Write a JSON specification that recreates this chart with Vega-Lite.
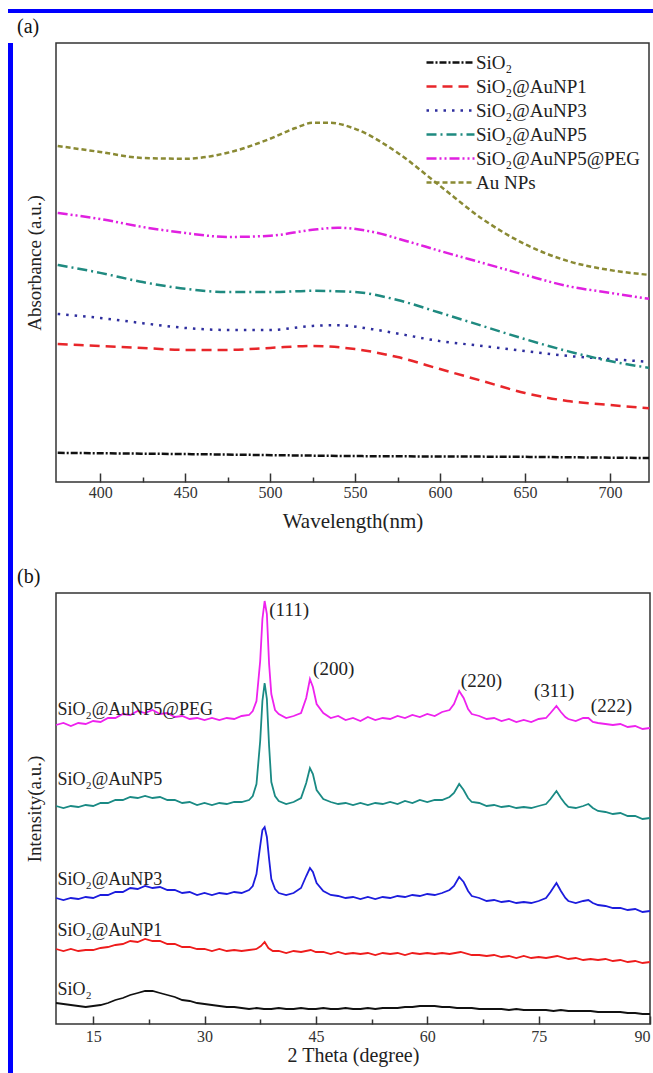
{
"$schema": "https://vega.github.io/schema/vega-lite/v6.json",
"padding": {"left": 8, "top": 9, "right": 0, "bottom": 0},
"background": "white",
"spacing": 3,
"config": {
  "font": "Liberation Serif",
  "view": {"stroke": "#333", "strokeWidth": 1.5},
  "axis": {"labelFont": "Liberation Serif", "titleFont": "Liberation Serif", "titleFontWeight": "normal", "labelColor": "#333", "titleColor": "#222", "grid": false, "domain": false},
  "title": {"font": "Liberation Serif", "fontWeight": "normal", "fontSize": 20, "anchor": "start", "color": "#111", "frame": "bounds"}
},
"datasets": {
"uv": [
{"s":"SiO₂","w":375,"a":0.073},{"s":"SiO₂","w":450,"a":0.070},{"s":"SiO₂","w":550,"a":0.065},{"s":"SiO₂","w":650,"a":0.063},{"s":"SiO₂","w":723,"a":0.060},
{"s":"SiO₂@AuNP1","w":375,"a":0.346},{"s":"SiO₂@AuNP1","w":400,"a":0.341},{"s":"SiO₂@AuNP1","w":425,"a":0.336},{"s":"SiO₂@AuNP1","w":450,"a":0.331},{"s":"SiO₂@AuNP1","w":475,"a":0.331},{"s":"SiO₂@AuNP1","w":500,"a":0.336},{"s":"SiO₂@AuNP1","w":525,"a":0.341},{"s":"SiO₂@AuNP1","w":550,"a":0.333},{"s":"SiO₂@AuNP1","w":575,"a":0.313},{"s":"SiO₂@AuNP1","w":600,"a":0.283},{"s":"SiO₂@AuNP1","w":625,"a":0.253},{"s":"SiO₂@AuNP1","w":650,"a":0.223},{"s":"SiO₂@AuNP1","w":675,"a":0.203},{"s":"SiO₂@AuNP1","w":700,"a":0.193},{"s":"SiO₂@AuNP1","w":723,"a":0.185},
{"s":"SiO₂@AuNP3","w":375,"a":0.421},{"s":"SiO₂@AuNP3","w":400,"a":0.411},{"s":"SiO₂@AuNP3","w":425,"a":0.398},{"s":"SiO₂@AuNP3","w":450,"a":0.386},{"s":"SiO₂@AuNP3","w":475,"a":0.381},{"s":"SiO₂@AuNP3","w":500,"a":0.381},{"s":"SiO₂@AuNP3","w":525,"a":0.391},{"s":"SiO₂@AuNP3","w":540,"a":0.393},{"s":"SiO₂@AuNP3","w":560,"a":0.383},{"s":"SiO₂@AuNP3","w":580,"a":0.368},{"s":"SiO₂@AuNP3","w":600,"a":0.353},{"s":"SiO₂@AuNP3","w":625,"a":0.341},{"s":"SiO₂@AuNP3","w":650,"a":0.328},{"s":"SiO₂@AuNP3","w":675,"a":0.316},{"s":"SiO₂@AuNP3","w":700,"a":0.308},{"s":"SiO₂@AuNP3","w":723,"a":0.301},
{"s":"SiO₂@AuNP5","w":375,"a":0.544},{"s":"SiO₂@AuNP5","w":400,"a":0.524},{"s":"SiO₂@AuNP5","w":425,"a":0.501},{"s":"SiO₂@AuNP5","w":450,"a":0.484},{"s":"SiO₂@AuNP5","w":475,"a":0.476},{"s":"SiO₂@AuNP5","w":500,"a":0.476},{"s":"SiO₂@AuNP5","w":525,"a":0.479},{"s":"SiO₂@AuNP5","w":550,"a":0.476},{"s":"SiO₂@AuNP5","w":575,"a":0.456},{"s":"SiO₂@AuNP5","w":600,"a":0.424},{"s":"SiO₂@AuNP5","w":625,"a":0.391},{"s":"SiO₂@AuNP5","w":650,"a":0.358},{"s":"SiO₂@AuNP5","w":675,"a":0.328},{"s":"SiO₂@AuNP5","w":700,"a":0.303},{"s":"SiO₂@AuNP5","w":723,"a":0.286},
{"s":"SiO₂@AuNP5@PEG","w":375,"a":0.674},{"s":"SiO₂@AuNP5@PEG","w":400,"a":0.659},{"s":"SiO₂@AuNP5@PEG","w":425,"a":0.639},{"s":"SiO₂@AuNP5@PEG","w":450,"a":0.624},{"s":"SiO₂@AuNP5@PEG","w":475,"a":0.614},{"s":"SiO₂@AuNP5@PEG","w":500,"a":0.617},{"s":"SiO₂@AuNP5@PEG","w":525,"a":0.632},{"s":"SiO₂@AuNP5@PEG","w":540,"a":0.637},{"s":"SiO₂@AuNP5@PEG","w":560,"a":0.627},{"s":"SiO₂@AuNP5@PEG","w":580,"a":0.604},{"s":"SiO₂@AuNP5@PEG","w":600,"a":0.579},{"s":"SiO₂@AuNP5@PEG","w":625,"a":0.549},{"s":"SiO₂@AuNP5@PEG","w":650,"a":0.519},{"s":"SiO₂@AuNP5@PEG","w":675,"a":0.491},{"s":"SiO₂@AuNP5@PEG","w":700,"a":0.474},{"s":"SiO₂@AuNP5@PEG","w":723,"a":0.459},
{"s":"Au NPs","w":375,"a":0.842},{"s":"Au NPs","w":400,"a":0.827},{"s":"Au NPs","w":425,"a":0.812},{"s":"Au NPs","w":450,"a":0.810},{"s":"Au NPs","w":475,"a":0.825},{"s":"Au NPs","w":500,"a":0.860},{"s":"Au NPs","w":515,"a":0.887},{"s":"Au NPs","w":525,"a":0.900},{"s":"Au NPs","w":535,"a":0.900},{"s":"Au NPs","w":550,"a":0.885},{"s":"Au NPs","w":575,"a":0.825},{"s":"Au NPs","w":600,"a":0.742},{"s":"Au NPs","w":625,"a":0.659},{"s":"Au NPs","w":650,"a":0.596},{"s":"Au NPs","w":675,"a":0.554},{"s":"Au NPs","w":700,"a":0.531},{"s":"Au NPs","w":723,"a":0.519}
],
"xrd": [
{"n":"P","t":10,"i":299},{"n":"P","t":11,"i":301},{"n":"P","t":12,"i":298},{"n":"P","t":13,"i":301},{"n":"P","t":14,"i":300},{"n":"P","t":15,"i":303},{"n":"P","t":16,"i":302},{"n":"P","t":17,"i":306},{"n":"P","t":18,"i":306},{"n":"P","t":19,"i":310},{"n":"P","t":20,"i":309},{"n":"P","t":21,"i":313},{"n":"P","t":22,"i":311},{"n":"P","t":23,"i":314},{"n":"P","t":24,"i":310},{"n":"P","t":25,"i":311},{"n":"P","t":26,"i":307},{"n":"P","t":27,"i":308},{"n":"P","t":28,"i":305},{"n":"P","t":29,"i":306},{"n":"P","t":30,"i":304},{"n":"P","t":31,"i":306},{"n":"P","t":32,"i":304},{"n":"P","t":33,"i":306},{"n":"P","t":34,"i":305},{"n":"P","t":35,"i":308},{"n":"P","t":36,"i":309},{"n":"P","t":36.5,"i":313},{"n":"P","t":37,"i":323},{"n":"P","t":37.5,"i":363},{"n":"P","t":37.8,"i":405},{"n":"P","t":38.1,"i":423},{"n":"P","t":38.4,"i":410},{"n":"P","t":38.7,"i":360},{"n":"P","t":39,"i":330},{"n":"P","t":39.5,"i":314},{"n":"P","t":40,"i":310},{"n":"P","t":41,"i":306},{"n":"P","t":42,"i":308},{"n":"P","t":43,"i":311},{"n":"P","t":43.7,"i":326},{"n":"P","t":44.2,"i":345},{"n":"P","t":44.6,"i":337},{"n":"P","t":45.1,"i":320},{"n":"P","t":46,"i":311},{"n":"P","t":47,"i":306},{"n":"P","t":48,"i":308},{"n":"P","t":49,"i":304},{"n":"P","t":50,"i":306},{"n":"P","t":51,"i":303},{"n":"P","t":52,"i":307},{"n":"P","t":53,"i":304},{"n":"P","t":54,"i":306},{"n":"P","t":55,"i":305},{"n":"P","t":56,"i":308},{"n":"P","t":57,"i":306},{"n":"P","t":58,"i":309},{"n":"P","t":59,"i":307},{"n":"P","t":60,"i":310},{"n":"P","t":61,"i":308},{"n":"P","t":62,"i":312},{"n":"P","t":63,"i":314},{"n":"P","t":63.6,"i":320},{"n":"P","t":64.3,"i":333},{"n":"P","t":64.9,"i":326},{"n":"P","t":65.5,"i":315},{"n":"P","t":66,"i":310},{"n":"P","t":67,"i":308},{"n":"P","t":68,"i":305},{"n":"P","t":69,"i":306},{"n":"P","t":70,"i":303},{"n":"P","t":71,"i":305},{"n":"P","t":72,"i":302},{"n":"P","t":73,"i":304},{"n":"P","t":74,"i":302},{"n":"P","t":75,"i":305},{"n":"P","t":76,"i":306},{"n":"P","t":76.6,"i":311},{"n":"P","t":77.4,"i":318},{"n":"P","t":78,"i":312},{"n":"P","t":78.6,"i":307},{"n":"P","t":79,"i":305},{"n":"P","t":80,"i":303},{"n":"P","t":81,"i":306},{"n":"P","t":81.7,"i":306},{"n":"P","t":82.3,"i":302},{"n":"P","t":83,"i":301},{"n":"P","t":84,"i":300},{"n":"P","t":85,"i":299},{"n":"P","t":86,"i":300},{"n":"P","t":87,"i":297},{"n":"P","t":88,"i":298},{"n":"P","t":89,"i":295},{"n":"P","t":90,"i":296},
{"n":"F","t":10,"i":218},{"n":"F","t":11,"i":216},{"n":"F","t":12,"i":218},{"n":"F","t":13,"i":217},{"n":"F","t":14,"i":219},{"n":"F","t":15,"i":218},{"n":"F","t":16,"i":221},{"n":"F","t":17,"i":221},{"n":"F","t":18,"i":224},{"n":"F","t":19,"i":224},{"n":"F","t":20,"i":227},{"n":"F","t":21,"i":226},{"n":"F","t":22,"i":228},{"n":"F","t":23,"i":226},{"n":"F","t":24,"i":227},{"n":"F","t":25,"i":224},{"n":"F","t":26,"i":224},{"n":"F","t":27,"i":221},{"n":"F","t":28,"i":222},{"n":"F","t":29,"i":219},{"n":"F","t":30,"i":221},{"n":"F","t":31,"i":219},{"n":"F","t":32,"i":221},{"n":"F","t":33,"i":220},{"n":"F","t":34,"i":222},{"n":"F","t":35,"i":222},{"n":"F","t":36,"i":224},{"n":"F","t":36.5,"i":228},{"n":"F","t":37,"i":240},{"n":"F","t":37.5,"i":283},{"n":"F","t":37.8,"i":323},{"n":"F","t":38.1,"i":341},{"n":"F","t":38.4,"i":325},{"n":"F","t":38.7,"i":278},{"n":"F","t":39,"i":242},{"n":"F","t":39.5,"i":228},{"n":"F","t":40,"i":223},{"n":"F","t":41,"i":220},{"n":"F","t":42,"i":222},{"n":"F","t":43,"i":226},{"n":"F","t":43.7,"i":241},{"n":"F","t":44.2,"i":256},{"n":"F","t":44.6,"i":250},{"n":"F","t":45.1,"i":234},{"n":"F","t":46,"i":225},{"n":"F","t":47,"i":222},{"n":"F","t":48,"i":220},{"n":"F","t":49,"i":221},{"n":"F","t":50,"i":219},{"n":"F","t":51,"i":221},{"n":"F","t":52,"i":219},{"n":"F","t":53,"i":221},{"n":"F","t":54,"i":220},{"n":"F","t":55,"i":222},{"n":"F","t":56,"i":220},{"n":"F","t":57,"i":223},{"n":"F","t":58,"i":221},{"n":"F","t":59,"i":224},{"n":"F","t":60,"i":222},{"n":"F","t":61,"i":224},{"n":"F","t":62,"i":224},{"n":"F","t":63,"i":227},{"n":"F","t":63.6,"i":231},{"n":"F","t":64.3,"i":240},{"n":"F","t":64.9,"i":234},{"n":"F","t":65.5,"i":226},{"n":"F","t":66,"i":222},{"n":"F","t":67,"i":221},{"n":"F","t":68,"i":218},{"n":"F","t":69,"i":219},{"n":"F","t":70,"i":217},{"n":"F","t":71,"i":218},{"n":"F","t":72,"i":216},{"n":"F","t":73,"i":217},{"n":"F","t":74,"i":216},{"n":"F","t":75,"i":218},{"n":"F","t":76,"i":220},{"n":"F","t":76.6,"i":225},{"n":"F","t":77.4,"i":233},{"n":"F","t":78,"i":226},{"n":"F","t":78.6,"i":220},{"n":"F","t":79,"i":217},{"n":"F","t":80,"i":216},{"n":"F","t":81,"i":218},{"n":"F","t":81.7,"i":220},{"n":"F","t":82.3,"i":216},{"n":"F","t":83,"i":213},{"n":"F","t":84,"i":212},{"n":"F","t":85,"i":210},{"n":"F","t":86,"i":211},{"n":"F","t":87,"i":208},{"n":"F","t":88,"i":208},{"n":"F","t":89,"i":205},{"n":"F","t":90,"i":206},
{"n":"T","t":10,"i":126},{"n":"T","t":11,"i":124},{"n":"T","t":12,"i":126},{"n":"T","t":13,"i":125},{"n":"T","t":14,"i":127},{"n":"T","t":15,"i":126},{"n":"T","t":16,"i":129},{"n":"T","t":17,"i":129},{"n":"T","t":18,"i":132},{"n":"T","t":19,"i":132},{"n":"T","t":20,"i":136},{"n":"T","t":21,"i":135},{"n":"T","t":22,"i":138},{"n":"T","t":23,"i":136},{"n":"T","t":24,"i":137},{"n":"T","t":25,"i":134},{"n":"T","t":26,"i":134},{"n":"T","t":27,"i":131},{"n":"T","t":28,"i":132},{"n":"T","t":29,"i":129},{"n":"T","t":30,"i":131},{"n":"T","t":31,"i":129},{"n":"T","t":32,"i":131},{"n":"T","t":33,"i":130},{"n":"T","t":34,"i":132},{"n":"T","t":35,"i":131},{"n":"T","t":36,"i":134},{"n":"T","t":36.5,"i":138},{"n":"T","t":37,"i":150},{"n":"T","t":37.5,"i":178},{"n":"T","t":37.8,"i":194},{"n":"T","t":38.1,"i":197},{"n":"T","t":38.4,"i":187},{"n":"T","t":38.7,"i":165},{"n":"T","t":39,"i":145},{"n":"T","t":39.5,"i":135},{"n":"T","t":40,"i":131},{"n":"T","t":41,"i":129},{"n":"T","t":42,"i":131},{"n":"T","t":43,"i":136},{"n":"T","t":43.7,"i":148},{"n":"T","t":44.2,"i":156},{"n":"T","t":44.6,"i":152},{"n":"T","t":45.1,"i":141},{"n":"T","t":46,"i":133},{"n":"T","t":47,"i":129},{"n":"T","t":48,"i":128},{"n":"T","t":49,"i":126},{"n":"T","t":50,"i":127},{"n":"T","t":51,"i":125},{"n":"T","t":52,"i":127},{"n":"T","t":53,"i":125},{"n":"T","t":54,"i":127},{"n":"T","t":55,"i":126},{"n":"T","t":56,"i":128},{"n":"T","t":57,"i":127},{"n":"T","t":58,"i":129},{"n":"T","t":59,"i":128},{"n":"T","t":60,"i":130},{"n":"T","t":61,"i":129},{"n":"T","t":62,"i":131},{"n":"T","t":63,"i":134},{"n":"T","t":63.6,"i":138},{"n":"T","t":64.3,"i":147},{"n":"T","t":64.9,"i":142},{"n":"T","t":65.5,"i":133},{"n":"T","t":66,"i":128},{"n":"T","t":67,"i":126},{"n":"T","t":68,"i":123},{"n":"T","t":69,"i":124},{"n":"T","t":70,"i":122},{"n":"T","t":71,"i":123},{"n":"T","t":72,"i":121},{"n":"T","t":73,"i":122},{"n":"T","t":74,"i":121},{"n":"T","t":75,"i":123},{"n":"T","t":76,"i":126},{"n":"T","t":76.6,"i":132},{"n":"T","t":77.4,"i":141},{"n":"T","t":78,"i":133},{"n":"T","t":78.6,"i":126},{"n":"T","t":79,"i":123},{"n":"T","t":80,"i":121},{"n":"T","t":81,"i":123},{"n":"T","t":81.7,"i":124},{"n":"T","t":82.3,"i":121},{"n":"T","t":83,"i":119},{"n":"T","t":84,"i":118},{"n":"T","t":85,"i":116},{"n":"T","t":86,"i":116},{"n":"T","t":87,"i":114},{"n":"T","t":88,"i":115},{"n":"T","t":89,"i":112},{"n":"T","t":90,"i":113},
{"n":"O","t":10,"i":75},{"n":"O","t":11,"i":73},{"n":"O","t":12,"i":75},{"n":"O","t":13,"i":73},{"n":"O","t":14,"i":74},{"n":"O","t":15,"i":74},{"n":"O","t":16,"i":76},{"n":"O","t":17,"i":77},{"n":"O","t":18,"i":79},{"n":"O","t":19,"i":80},{"n":"O","t":20,"i":83},{"n":"O","t":21,"i":82},{"n":"O","t":22,"i":85},{"n":"O","t":23,"i":83},{"n":"O","t":24,"i":83},{"n":"O","t":25,"i":80},{"n":"O","t":26,"i":80},{"n":"O","t":27,"i":77},{"n":"O","t":28,"i":77},{"n":"O","t":29,"i":75},{"n":"O","t":30,"i":75},{"n":"O","t":31,"i":73},{"n":"O","t":32,"i":75},{"n":"O","t":33,"i":73},{"n":"O","t":34,"i":74},{"n":"O","t":35,"i":73},{"n":"O","t":36,"i":74},{"n":"O","t":37,"i":75},{"n":"O","t":37.6,"i":78},{"n":"O","t":38.1,"i":82},{"n":"O","t":38.6,"i":76},{"n":"O","t":39.2,"i":73},{"n":"O","t":40,"i":73},{"n":"O","t":41,"i":71},{"n":"O","t":42,"i":73},{"n":"O","t":43,"i":72},{"n":"O","t":44.3,"i":74},{"n":"O","t":45,"i":72},{"n":"O","t":46,"i":72},{"n":"O","t":47,"i":70},{"n":"O","t":48,"i":72},{"n":"O","t":49,"i":70},{"n":"O","t":50,"i":71},{"n":"O","t":51,"i":70},{"n":"O","t":52,"i":71},{"n":"O","t":53,"i":69},{"n":"O","t":54,"i":71},{"n":"O","t":55,"i":70},{"n":"O","t":56,"i":71},{"n":"O","t":57,"i":69},{"n":"O","t":58,"i":71},{"n":"O","t":59,"i":70},{"n":"O","t":60,"i":71},{"n":"O","t":61,"i":70},{"n":"O","t":62,"i":71},{"n":"O","t":63,"i":70},{"n":"O","t":64.5,"i":72},{"n":"O","t":66,"i":69},{"n":"O","t":67,"i":69},{"n":"O","t":68,"i":68},{"n":"O","t":69,"i":69},{"n":"O","t":70,"i":67},{"n":"O","t":71,"i":68},{"n":"O","t":72,"i":66},{"n":"O","t":73,"i":68},{"n":"O","t":74,"i":66},{"n":"O","t":75,"i":67},{"n":"O","t":76,"i":66},{"n":"O","t":77.5,"i":68},{"n":"O","t":79,"i":65},{"n":"O","t":80,"i":66},{"n":"O","t":81,"i":64},{"n":"O","t":82,"i":65},{"n":"O","t":83,"i":64},{"n":"O","t":84,"i":65},{"n":"O","t":85,"i":63},{"n":"O","t":86,"i":64},{"n":"O","t":87,"i":62},{"n":"O","t":88,"i":63},{"n":"O","t":89,"i":61},{"n":"O","t":90,"i":62},
{"n":"S","t":10,"i":21},{"n":"S","t":11,"i":20},{"n":"S","t":12,"i":19},{"n":"S","t":13,"i":18},{"n":"S","t":14,"i":17},{"n":"S","t":15,"i":18},{"n":"S","t":16,"i":19},{"n":"S","t":17,"i":21},{"n":"S","t":18,"i":24},{"n":"S","t":19,"i":26},{"n":"S","t":20,"i":29},{"n":"S","t":21,"i":31},{"n":"S","t":22,"i":33},{"n":"S","t":23,"i":33},{"n":"S","t":24,"i":31},{"n":"S","t":25,"i":29},{"n":"S","t":26,"i":27},{"n":"S","t":27,"i":24},{"n":"S","t":28,"i":23},{"n":"S","t":29,"i":21},{"n":"S","t":30,"i":20},{"n":"S","t":31,"i":19},{"n":"S","t":32,"i":18},{"n":"S","t":33,"i":17},{"n":"S","t":34,"i":17},{"n":"S","t":35,"i":16},{"n":"S","t":36,"i":15},{"n":"S","t":37,"i":16},{"n":"S","t":38,"i":15},{"n":"S","t":39,"i":15},{"n":"S","t":40,"i":16},{"n":"S","t":41,"i":15},{"n":"S","t":42,"i":15},{"n":"S","t":43,"i":16},{"n":"S","t":44,"i":15},{"n":"S","t":45,"i":15},{"n":"S","t":46,"i":16},{"n":"S","t":47,"i":15},{"n":"S","t":48,"i":15},{"n":"S","t":49,"i":16},{"n":"S","t":50,"i":15},{"n":"S","t":51,"i":15},{"n":"S","t":52,"i":16},{"n":"S","t":53,"i":15},{"n":"S","t":54,"i":16},{"n":"S","t":55,"i":16},{"n":"S","t":56,"i":16},{"n":"S","t":57,"i":17},{"n":"S","t":58,"i":17},{"n":"S","t":59,"i":18},{"n":"S","t":60,"i":18},{"n":"S","t":61,"i":18},{"n":"S","t":62,"i":17},{"n":"S","t":63,"i":17},{"n":"S","t":64,"i":16},{"n":"S","t":65,"i":16},{"n":"S","t":66,"i":16},{"n":"S","t":67,"i":15},{"n":"S","t":68,"i":15},{"n":"S","t":69,"i":15},{"n":"S","t":70,"i":15},{"n":"S","t":71,"i":14},{"n":"S","t":72,"i":15},{"n":"S","t":73,"i":14},{"n":"S","t":74,"i":14},{"n":"S","t":75,"i":14},{"n":"S","t":76,"i":14},{"n":"S","t":77,"i":13},{"n":"S","t":78,"i":14},{"n":"S","t":79,"i":13},{"n":"S","t":80,"i":13},{"n":"S","t":81,"i":13},{"n":"S","t":82,"i":13},{"n":"S","t":83,"i":12},{"n":"S","t":84,"i":12},{"n":"S","t":85,"i":12},{"n":"S","t":86,"i":12},{"n":"S","t":87,"i":11},{"n":"S","t":88,"i":11},{"n":"S","t":89,"i":10},{"n":"S","t":90,"i":10}
],
"peaks": [
{"label":"(111)","t":41.4,"i":414},{"label":"(200)","t":47.4,"i":355},{"label":"(220)","t":67.3,"i":343},{"label":"(311)","t":77.1,"i":333},{"label":"(222)","t":84.8,"i":318}
],
"names": [
{"label":"SiO₂@AuNP5@PEG","t":10.2,"i":314},{"label":"SiO₂@AuNP5","t":10.2,"i":244},{"label":"SiO₂@AuNP3","t":10.2,"i":144},{"label":"SiO₂@AuNP1","t":10.2,"i":93},{"label":"SiO₂","t":10.2,"i":34}
]
},
"vconcat": [
  {"width": 645, "height": 4, "view": {"fill": "#0000ff", "stroke": null}, "data": {"values": []}, "mark": "rule", "encoding": {}},
  {"spacing": 3, "hconcat": [
    {"width": 5, "height": 1060, "view": {"fill": "#0000ff", "stroke": null}, "data": {"values": []}, "mark": "rule", "encoding": {}},
    {"spacing": 34, "resolve": {"scale": {"color": "independent", "strokeDash": "independent", "x": "independent", "y": "independent"}},
     "vconcat": [
      {
        "title": {"text": "(a)", "dx": -8, "offset": 6},
        "width": 593, "height": 439,
        "data": {"name": "uv"},
        "mark": {"type": "line", "strokeWidth": 2.5, "interpolate": "monotone"},
        "encoding": {
          "x": {"field": "w", "type": "quantitative", "scale": {"domain": [374, 723], "nice": false},
                "axis": {"title": "Wavelength(nm)", "values": [400,425,450,475,500,525,550,575,600,625,650,675,700],
                         "labelExpr": "datum.value % 50 === 0 ? datum.label : ''",
                         "tickSize": {"condition": {"test": "datum.value % 50 === 0", "value": -9}, "value": -5},
                         "tickColor": "#333", "tickWidth": 1.5, "labelFontSize": 16, "titleFontSize": 21, "labelPadding": 11, "titlePadding": 10}},
          "y": {"field": "a", "type": "quantitative", "scale": {"domain": [0, 1.1], "nice": false},
                "axis": {"title": "Absorbance (a.u.)", "labels": false, "ticks": false, "titleFontSize": 19, "titlePadding": 12}},
          "color": {"field": "s", "type": "nominal",
                "scale": {"domain": ["SiO₂","SiO₂@AuNP1","SiO₂@AuNP3","SiO₂@AuNP5","SiO₂@AuNP5@PEG","Au NPs"],
                          "range": ["#111111","#e8262a","#2e2e9e","#1f8a80","#e020e0","#8a8a34"]},
                "legend": {"title": null, "orient": "none", "legendX": 369, "legendY": 6, "symbolType": "M-1,0H3", "symbolSize": 576, "symbolStrokeWidth": 2.5, "labelFont": "Liberation Serif", "labelFontSize": 19, "labelColor": "#222", "labelOffset": 24, "rowPadding": 0, "padding": 0, "labelLimit": 300}},
          "strokeDash": {"field": "s", "type": "nominal",
                "scale": {"domain": ["SiO₂","SiO₂@AuNP1","SiO₂@AuNP3","SiO₂@AuNP5","SiO₂@AuNP5@PEG","Au NPs"],
                          "range": [[7,2,2,2],[10,6],[2.5,6],[10,4,2,4],[10,3,2,3,2,3],[5,3]]},
                "legend": {"title": null, "orient": "none", "legendX": 369, "legendY": 6, "symbolType": "M-1,0H3", "symbolSize": 576, "symbolStrokeWidth": 2.5, "labelFont": "Liberation Serif", "labelFontSize": 19, "labelColor": "#222", "labelOffset": 24, "rowPadding": 0, "padding": 0, "labelLimit": 300}}
        }
      },
      {
        "title": {"text": "(b)", "dx": -8, "offset": 6},
        "width": 594, "height": 431,
        "layer": [
          {"data": {"name": "xrd"},
           "mark": {"type": "line", "strokeWidth": 1.8},
           "encoding": {
             "x": {"field": "t", "type": "quantitative", "scale": {"domain": [10, 90], "nice": false},
                   "axis": {"title": "2 Theta (degree)", "values": [15,22.5,30,37.5,45,52.5,60,67.5,75,82.5,90],
                            "labelExpr": "datum.value % 15 === 0 ? datum.label : ''",
                            "tickSize": {"condition": {"test": "datum.value % 15 === 0", "value": -8}, "value": -5},
                            "tickColor": "#333", "tickWidth": 1.5, "labelFontSize": 16, "titleFontSize": 20, "labelPadding": 12, "titlePadding": 1}},
             "y": {"field": "i", "type": "quantitative", "scale": {"domain": [0, 431], "nice": false},
                   "axis": {"title": "Intensity(a.u.)", "labels": false, "ticks": false, "titleFontSize": 19, "titlePadding": 12}},
             "color": {"field": "n", "type": "nominal", "scale": {"domain": ["P","F","T","O","S"], "range": ["#ee22ee","#1a8a84","#1c1cdd","#ee1c1c","#111111"]}, "legend": null}
           }},
          {"data": {"name": "peaks"},
           "mark": {"type": "text", "fontSize": 19, "font": "Liberation Serif", "color": "#222"},
           "encoding": {"x": {"field": "t", "type": "quantitative"}, "y": {"field": "i", "type": "quantitative"}, "text": {"field": "label"}}},
          {"data": {"name": "names"},
           "mark": {"type": "text", "fontSize": 18, "font": "Liberation Serif", "color": "#222", "align": "left"},
           "encoding": {"x": {"field": "t", "type": "quantitative"}, "y": {"field": "i", "type": "quantitative"}, "text": {"field": "label"}}}
        ]
      }
    ]}
  ]}
]
}
